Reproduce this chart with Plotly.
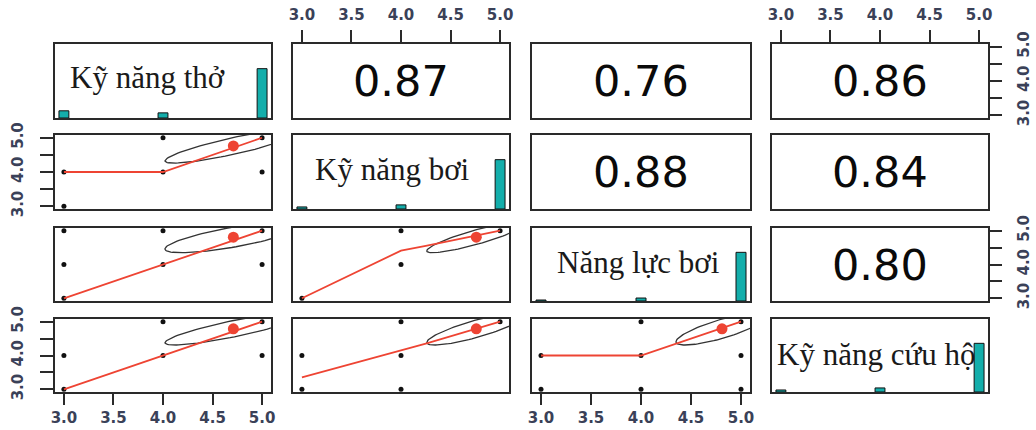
import numpy as np
import plotly.graph_objects as go

variables = ["Kỹ năng thở", "Kỹ năng bơi", "Năng lực bơi", "Kỹ năng cứu hộ"]
levels = [3, 4, 5]
hist_counts = [[7, 5, 48], [2, 4, 48], [1, 3, 49], [2, 4, 48]]
means = [4.71, 4.76, 4.81, 4.79]
sds = [0.69, 0.50, 0.46, 0.48]
corr = {(0, 1): 0.87, (0, 2): 0.76, (0, 3): 0.86,
        (1, 2): 0.88, (1, 3): 0.84, (2, 3): 0.80}

# lower panels (row i, col j): x = variable j, y = variable i
points_x = {(1, 0): [3, 3, 4, 4, 5, 5], (2, 0): [3, 4, 5, 3, 4, 5, 3],
            (3, 0): [3, 3, 4, 4, 5, 5], (2, 1): [3, 4, 4, 5],
            (3, 1): [3, 3, 4, 4, 4, 5], (3, 2): [3, 4, 5, 3, 4, 5, 4, 5]}
points_y = {(1, 0): [3, 4, 4, 5, 4, 5], (2, 0): [5, 5, 5, 4, 4, 4, 3],
            (3, 0): [3, 4, 4, 5, 4, 5], (2, 1): [3, 4, 5, 5],
            (3, 1): [3, 4, 3, 4, 5, 5], (3, 2): [3, 3, 3, 4, 4, 4, 5, 5]}
smooth_x = {(1, 0): [3, 4, 5], (2, 0): [3, 4, 5], (3, 0): [3, 4, 5],
            (2, 1): [3, 4, 4.25, 5], (3, 1): [3, 4.25, 5], (3, 2): [3, 4, 5]}
smooth_y = {(1, 0): [4, 4, 5], (2, 0): [3, 4, 5], (3, 0): [3, 4, 5],
            (2, 1): [3, 4.41, 4.55, 5], (3, 1): [3.35, 4.35, 5], (3, 2): [4, 4, 5]}
tick_vals = [3, 3.5, 4, 4.5, 5]
x_tick_text = ["3.0", "3.5", "4.0", "4.5", "5.0"]
y_tick_text = ["3.0", "", "4.0", "", "5.0"]

W, H = 1036, 430
col_px = [(55, 271), (293, 509), (532, 750), (772, 988)]
row_px = [(44, 118), (135, 209), (228, 301), (319, 392)]
label_pos = [(0.43, 0.55), (0.46, 0.53), (0.49, 0.53), (0.48, 0.51)]
XR = [2.91, 5.09]
YR = [2.92, 5.08]

RED = "#ee4433"
TEAL = "#14aeab"
TICKFONT = dict(family="DejaVu Sans", size=15, color="#3a4158", weight="bold")

fig = go.Figure()
layout = dict(width=W, height=H, margin=dict(l=0, r=0, t=0, b=0, autoexpand=False),
              paper_bgcolor="white", plot_bgcolor="white", showlegend=False)
annotations = []


def ellipse(xm, ym, xs, ys, r, seg=100):
    a = np.linspace(0, 2 * np.pi, seg + 1)
    th = np.sign(r) / np.sqrt(2)
    shape = np.diag([np.sqrt(1 + r), np.sqrt(1 - r)]) @ np.array([[th, th], [-th, th]])
    e = np.column_stack([np.cos(a), np.sin(a)]) @ shape
    return e[:, 0] * xs + xm, e[:, 1] * ys + ym


for i in range(4):
    for j in range(4):
        k = i * 4 + j + 1
        xa = "x" if k == 1 else f"x{k}"
        ya = "y" if k == 1 else f"y{k}"
        xname = "xaxis" if k == 1 else f"xaxis{k}"
        yname = "yaxis" if k == 1 else f"yaxis{k}"
        x0, x1 = col_px[j]
        y0, y1 = row_px[i]
        xax = dict(domain=[x0 / W, x1 / W], anchor=ya, range=XR, automargin=False,
                   showgrid=False, zeroline=False, showline=True, mirror=True,
                   linecolor="#2a2a2a", linewidth=2, showticklabels=False,
                   ticks="", fixedrange=True)
        yax = dict(domain=[1 - y1 / H, 1 - y0 / H], anchor=xa, range=YR, automargin=False,
                   showgrid=False, zeroline=False, showline=True, mirror=True,
                   linecolor="#2a2a2a", linewidth=2, showticklabels=False,
                   ticks="", fixedrange=True)
        if i == 0 and j in (1, 3):
            xax.update(side="top", ticks="outside", ticklen=12, tickwidth=1.5,
                       tickcolor="#2a2a2a", tickvals=tick_vals, ticktext=x_tick_text,
                       showticklabels=True, tickfont=TICKFONT, ticklabelstandoff=4)
        if i == 3 and j in (0, 2):
            xax.update(side="bottom", ticks="outside", ticklen=11, tickwidth=1.5,
                       tickcolor="#2a2a2a", tickvals=tick_vals, ticktext=x_tick_text,
                       showticklabels=True, tickfont=TICKFONT, ticklabelstandoff=0)
        if j == 0 and i in (1, 3):
            yax.update(side="left", ticks="outside", ticklen=13, tickwidth=1.5,
                       tickcolor="#2a2a2a", tickvals=tick_vals, ticktext=y_tick_text,
                       showticklabels=True, tickfont=TICKFONT, tickangle=-90,
                       ticklabelstandoff=11)
        if j == 3 and i in (0, 2):
            yax.update(side="right", ticks="outside", ticklen=12, tickwidth=1.5,
                       tickcolor="#2a2a2a", tickvals=tick_vals, ticktext=y_tick_text,
                       showticklabels=True, tickfont=TICKFONT, tickangle=-90,
                       ticklabelstandoff=9)

        if i == j:
            counts = hist_counts[i]
            yax["range"] = [0, max(counts) * 1.5]
            fig.add_trace(go.Bar(x=levels, y=counts, width=0.1,
                                 marker=dict(color=TEAL, line=dict(color="#111", width=1)),
                                 xaxis=xa, yaxis=ya, hoverinfo="skip"))
            lx, ly = label_pos[i]
            annotations.append(dict(text=variables[i], xref=f"{xa} domain",
                                    yref=f"{ya} domain", x=lx, y=ly, showarrow=False,
                                    font=dict(family="Liberation Serif", size=31,
                                              color="#1a1a1a")))
        elif i < j:
            annotations.append(dict(text=f"{corr[(i, j)]:.2f}", xref=f"{xa} domain",
                                    yref=f"{ya} domain", x=0.5, y=0.5, showarrow=False,
                                    font=dict(family="DejaVu Sans", size=43, color="#0a0a0a")))
            fig.add_trace(go.Scatter(x=[None], y=[None], xaxis=xa, yaxis=ya,
                                     mode="markers", hoverinfo="skip"))
        else:
            key = (i, j)
            fig.add_trace(go.Scatter(x=points_x[key], y=points_y[key], mode="markers",
                                     marker=dict(color="#111", size=5),
                                     xaxis=xa, yaxis=ya, hoverinfo="skip", cliponaxis=False))
            ex, ey = ellipse(means[j], means[i], sds[j], sds[i], corr[(j, i)])
            fig.add_trace(go.Scatter(x=ex, y=ey, mode="lines",
                                     line=dict(color="#333", width=1.3),
                                     xaxis=xa, yaxis=ya, hoverinfo="skip"))
            fig.add_trace(go.Scatter(x=smooth_x[key], y=smooth_y[key], mode="lines",
                                     line=dict(color=RED, width=1.8),
                                     xaxis=xa, yaxis=ya, hoverinfo="skip"))
            fig.add_trace(go.Scatter(x=[means[j]], y=[means[i]], mode="markers",
                                     marker=dict(color=RED, size=11),
                                     xaxis=xa, yaxis=ya, hoverinfo="skip"))
        layout[xname] = xax
        layout[yname] = yax

layout["annotations"] = annotations
fig.update_layout(**layout)
fig.write_html("out.html", config={"displayModeBar": False},
               post_script="document.body.style.margin='0';document.body.style.overflow='hidden';")
